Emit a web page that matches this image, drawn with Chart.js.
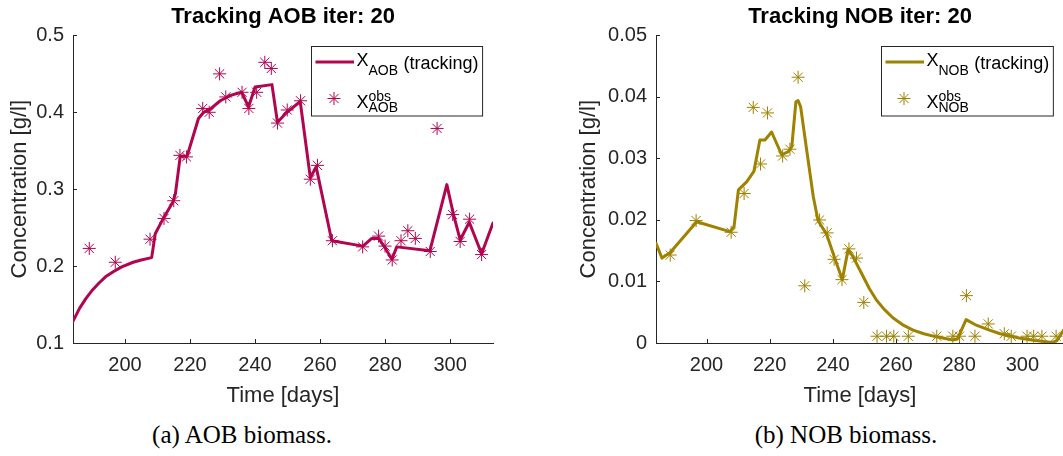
<!DOCTYPE html>
<html>
<head>
<meta charset="utf-8">
<script src="https://cdn.jsdelivr.net/npm/chart.js@4.4.1/dist/chart.umd.min.js"></script>
<style>
  html, body { margin: 0; padding: 0; background: #fff; overflow: hidden; width: 1063px; height: 456px; }
  .panel { position: absolute; top: 0; }
  #left { left: 0; }
  #right { left: 530px; }
  .caption {
    position: absolute; top: 435px; transform: translate(-50%, -50%);
    font-family: "Liberation Serif", "DejaVu Serif", serif; font-size: 25px; color: #000; white-space: nowrap;
  }
</style>
</head>
<body>
<div class="panel" id="left"><canvas id="aobChart" width="530" height="413"></canvas></div>
<div class="panel" id="right"><canvas id="nobChart" width="545" height="413"></canvas></div>
<div class="caption" style="left:242px">(a) AOB biomass.</div>
<div class="caption" style="left:846px">(b) NOB biomass.</div>
<script>
// axis ticks
const xTicks = [200, 220, 240, 260, 280, 300];
const aobYTicks = [0.1, 0.2, 0.3, 0.4, 0.5];
const nobYTicks = [0, 0.01, 0.02, 0.03, 0.04, 0.05];

// AOB: model tracking curve
const aobTrackDays = [184.1, 186, 188, 190, 192, 194, 196.5, 199, 202.5, 205, 208.2, 209.3, 211.9, 214.7, 215.5, 217.0, 219.1, 220.6, 222.6, 224.2, 226.2, 229.3, 232.4, 235.9, 238.0, 240.0, 245.2, 246.9, 249.8, 253.9, 257.0, 258.8, 263.6, 273.2, 275.9, 278.0, 279.5, 282.1, 283.6, 293.8, 299.0, 301.0, 303.1, 305.9, 309.7, 313.2];
const aobTrackVals = [0.129, 0.145, 0.158, 0.169, 0.178, 0.186, 0.193, 0.199, 0.205, 0.208, 0.211, 0.242, 0.263, 0.283, 0.294, 0.343, 0.343, 0.364, 0.392, 0.400, 0.404, 0.415, 0.422, 0.426, 0.407, 0.433, 0.436, 0.387, 0.400, 0.414, 0.315, 0.329, 0.233, 0.226, 0.236, 0.236, 0.227, 0.209, 0.225, 0.220, 0.306, 0.268, 0.234, 0.257, 0.216, 0.256];
// AOB: observations
const aobObsDays = [189.0, 197.0, 207.7, 212.0, 215.0, 216.9, 218.9, 223.9, 225.9, 229.1, 231.0, 236.0, 238.1, 240.5, 243.0, 245.0, 246.9, 249.9, 254.0, 257.0, 259.2, 263.8, 273.1, 278.0, 280.0, 282.2, 284.9, 287.0, 289.3, 293.9, 296.0, 300.8, 303.1, 306.0, 309.7];
const aobObsVals = [0.223, 0.205, 0.235, 0.262, 0.285, 0.344, 0.342, 0.405, 0.400, 0.450, 0.420, 0.426, 0.405, 0.426, 0.465, 0.457, 0.386, 0.403, 0.415, 0.313, 0.331, 0.233, 0.225, 0.239, 0.226, 0.208, 0.233, 0.246, 0.236, 0.219, 0.379, 0.267, 0.232, 0.261, 0.215];

// NOB: model tracking curve
const nobTrackDays = [184.0, 185.9, 188.5, 196.9, 207.4, 208.7, 210.1, 212.7, 215.0, 216.9, 218.5, 220.6, 223.8, 225.9, 227.0, 228.3, 229.0, 229.8, 231.7, 233.8, 235.3, 238.0, 240.8, 243.0, 244.8, 246.2, 249.6, 251.5, 253.8, 256.2, 259.0, 262.0, 265.4, 268.8, 272.8, 278.0, 279.5, 282.2, 285.0, 289.6, 293.0, 299.0, 304.0, 309.5, 311.0, 313.2];
const nobTrackVals = [0.0162, 0.0138, 0.0147, 0.0197, 0.0181, 0.0189, 0.0249, 0.0262, 0.0279, 0.0330, 0.0330, 0.0343, 0.0306, 0.0311, 0.0319, 0.0392, 0.0394, 0.0384, 0.0314, 0.0238, 0.0199, 0.0177, 0.0135, 0.0103, 0.0151, 0.0142, 0.0108, 0.0089, 0.0070, 0.0055, 0.0041, 0.0030, 0.0021, 0.0015, 0.0010, 0.0005, 0.0007, 0.0038, 0.0030, 0.0021, 0.0015, 0.0008, 0.0004, 0.0001, 0.0004, 0.0022];
// NOB: observations
const nobObsDays = [188.5, 196.7, 207.8, 211.9, 214.8, 217.1, 219.3, 224.1, 226.4, 229.0, 231.1, 235.8, 238.2, 240.4, 242.9, 245.1, 247.5, 249.8, 254.0, 257.0, 259.3, 263.9, 272.9, 278.0, 280.1, 282.3, 285.0, 289.2, 294.3, 296.5, 301.5, 303.6, 306.2, 310.7];
const nobObsVals = [0.0143, 0.0199, 0.0180, 0.0243, 0.0383, 0.0291, 0.0374, 0.0304, 0.0315, 0.0432, 0.0093, 0.0200, 0.0179, 0.0136, 0.0103, 0.0153, 0.0138, 0.0066, 0.0011, 0.0011, 0.0011, 0.0011, 0.0011, 0.0011, 0.0011, 0.0077, 0.0011, 0.0031, 0.0015, 0.0011, 0.0011, 0.0011, 0.0011, 0.0011];

const FONT = '"Liberation Sans", Arial, sans-serif';
const axisColor = '#262626';

// MATLAB style ticks pointing into the plot
const inwardTicks = {
  id: 'inwardTicks',
  beforeDatasetsDraw(chart) {
    const { ctx, chartArea: a, scales: { x, y } } = chart;
    ctx.save();
    ctx.strokeStyle = axisColor;
    ctx.lineWidth = 1;
    ctx.beginPath();
    x.ticks.forEach(t => {
      const px = Math.round(x.getPixelForValue(t.value)) + 0.5;
      ctx.moveTo(px, a.bottom);
      ctx.lineTo(px, a.bottom - 4);
    });
    y.ticks.forEach(t => {
      const py = Math.round(y.getPixelForValue(t.value)) + 0.5;
      ctx.moveTo(a.left, py);
      ctx.lineTo(a.left + 4, py);
    });
    ctx.stroke();
    ctx.restore();
  }
};

// legend box with sub/superscripts like the TeX interpreter
const texLegend = {
  id: 'texLegend',
  afterDraw(chart, args, o) {
    const { ctx, chartArea } = chart;
    const big = '18px ' + FONT;
    const small = '14px ' + FONT;
    ctx.save();
    ctx.font = big;
    const xW = ctx.measureText('X').width;
    const trW = ctx.measureText('(tracking)').width;
    ctx.font = small;
    const subW = ctx.measureText(o.sub).width;
    const w = 45 + xW + subW + 5.5 + trW + 4;
    const h = 69.5;
    const L = Math.round(chartArea.right - 11 - w) + 0.5;
    const T = Math.round(chartArea.top + 11) + 0.5;

    ctx.fillStyle = '#fff';
    ctx.fillRect(L, T, w, h);
    ctx.strokeStyle = axisColor;
    ctx.lineWidth = 1;
    ctx.strokeRect(L, T, w, h);

    // line sample
    ctx.strokeStyle = o.color;
    ctx.lineWidth = 3;
    ctx.beginPath();
    ctx.moveTo(L + 4, T + 15.5);
    ctx.lineTo(L + 42.5, T + 15.5);
    ctx.stroke();

    // star sample
    ctx.lineWidth = 1;
    ctx.fillStyle = 'rgba(0,0,0,0)';
    Chart.helpers.drawPoint(ctx, { pointStyle: 'star', radius: 6.5, rotation: 0, borderWidth: 1 }, L + 22.5, T + 52);

    ctx.fillStyle = '#000';
    ctx.textBaseline = 'alphabetic';
    ctx.textAlign = 'left';
    const tx = L + 45;
    ctx.font = big;
    ctx.fillText('X', tx, T + 19.5);
    ctx.fillText('(tracking)', tx + xW + subW + 5.5, T + 22);
    ctx.fillText('X', tx, T + 61.5);
    ctx.font = small;
    ctx.fillText(o.sub, tx + xW, T + 28.5);
    ctx.fillText('obs', tx + xW, T + 54);
    ctx.fillText(o.sub, tx + xW, T + 65.5);
    ctx.restore();
  }
};

function makeChart(id, opt) {
  const toXY = (days, vals) => days.map((d, i) => ({ x: d, y: vals[i] }));
  return new Chart(document.getElementById(id), {
    type: 'line',
    data: {
      datasets: [{
        label: 'tracking',
        data: toXY(opt.trackDays, opt.trackVals),
        borderColor: opt.color,
        borderWidth: 3,
        pointRadius: 0,
        tension: 0,
        borderJoinStyle: 'round',
        borderCapStyle: 'round',
        order: 1
      }, {
        label: 'obs',
        data: toXY(opt.obsDays, opt.obsVals),
        showLine: false,
        pointStyle: 'star',
        pointRadius: 6.5,
        pointBorderWidth: 1,
        borderColor: opt.color,
        pointBorderColor: opt.color,
        backgroundColor: 'rgba(0,0,0,0)',
        order: 0
      }]
    },
    options: {
      responsive: false,
      animation: false,
      devicePixelRatio: 1,
      layout: { padding: { left: 0, right: opt.padRight, top: 0, bottom: 0 } },
      plugins: {
        legend: { display: false },
        tooltip: { enabled: false },
        title: {
          display: true,
          text: opt.title,
          fullSize: false,
          color: '#000',
          font: { family: FONT, size: 22, weight: 'bold' },
          padding: { top: 4, bottom: 5 }
        },
        texLegend: { sub: opt.sub, color: opt.color }
      },
      scales: {
        x: {
          type: 'linear',
          min: 184,
          max: 313.2,
          afterBuildTicks: s => { s.ticks = xTicks.map(v => ({ value: v })); },
          afterFit: s => { s.height = 70; },
          grid: { drawOnChartArea: false, drawTicks: false },
          border: { display: true, color: axisColor, width: 1 },
          ticks: { color: axisColor, font: { family: FONT, size: 20 }, padding: 10, maxRotation: 0, autoSkip: false },
          title: { display: true, text: 'Time [days]', color: axisColor, font: { family: FONT, size: 22 }, padding: { top: 0, bottom: 4 } }
        },
        y: {
          type: 'linear',
          min: opt.yTicks[0],
          max: opt.yTicks[opt.yTicks.length - 1],
          afterBuildTicks: s => { s.ticks = opt.yTicks.map(v => ({ value: v })); },
          afterFit: s => { s.width = opt.yAxisWidth; },
          grid: { drawOnChartArea: false, drawTicks: false },
          border: { display: true, color: axisColor, width: 1 },
          ticks: { color: axisColor, font: { family: FONT, size: 20 }, padding: 9, autoSkip: false, callback: v => String(v) },
          title: { display: true, text: 'Concentration [g/l]', color: axisColor, font: { family: FONT, size: 22 }, padding: { top: opt.yTitlePad, bottom: 0 } }
        }
      }
    },
    plugins: [inwardTicks, texLegend]
  });
}

makeChart('aobChart', {
  title: 'Tracking AOB iter: 20', sub: 'AOB', color: '#B1054F',
  trackDays: aobTrackDays, trackVals: aobTrackVals, obsDays: aobObsDays, obsVals: aobObsVals,
  yTicks: aobYTicks, yAxisWidth: 73, yTitlePad: 7, padRight: 37
});

makeChart('nobChart', {
  title: 'Tracking NOB iter: 20', sub: 'NOB', color: '#9E8200',
  trackDays: nobTrackDays, trackVals: nobTrackVals, obsDays: nobObsDays, obsVals: nobObsVals,
  yTicks: nobYTicks, yAxisWidth: 126, yTitlePad: 46, padRight: 11
});
</script>
</body>
</html>
